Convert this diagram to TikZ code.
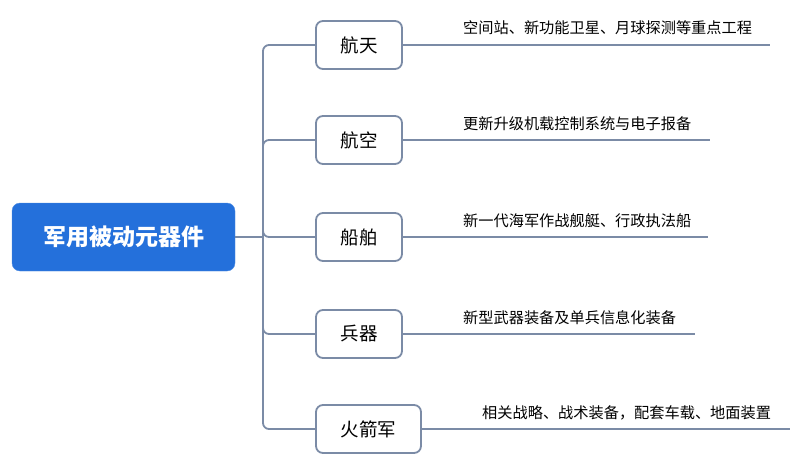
\documentclass[tikz,border=0pt]{standalone}
\usepackage{fontspec}
\setmainfont{Noto Sans CJK SC}
\usetikzlibrary{positioning,calc}
\definecolor{rootblue}{HTML}{2470DB}
\definecolor{linkgray}{HTML}{7B8BA6}
\tikzset{
  rootbox/.style={draw=rootblue!80!white,fill=rootblue,rounded corners=8pt,text=white,
    minimum width=223pt,minimum height=68pt,font=\fontsize{23}{26}\selectfont\bfseries},
  topicbox/.style={draw=linkgray,line width=1.8pt,fill=white,rounded corners=7pt,
    minimum height=48pt,font=\fontsize{18.5}{21}\selectfont},
  leaf/.style={anchor=west,inner sep=0pt,font=\fontsize{15.2}{18}\selectfont},
  link/.style={draw=linkgray,line width=1.8pt}
}
\begin{document}
\begin{tikzpicture}[x=1pt,y=-1pt]
  \useasboundingbox (0,0) rectangle (800,466);
  % root and hub
  \node[rootbox] (root) at (123.5,237) {军用被动元器件};
  \coordinate (hub) at (263,237);
  \draw[link] (root.east) -- (hub);
  % topics
  \node[topicbox,minimum width=86pt] (ht) at (359,45) {航天};
  \node[topicbox,minimum width=86pt] (hk) at (359,140) {航空};
  \node[topicbox,minimum width=86pt] (cb) at (359,237) {船舶};
  \node[topicbox,minimum width=86pt] (bq) at (359,334) {兵器};
  \node[topicbox,minimum width=105pt] (hjj) at (368.5,429) {火箭军};
  \foreach \t in {ht,hk,cb,bq,hjj}
    \draw[link,rounded corners=6pt] (hub) |- (\t.west);
  % leaves
  \node[leaf] (l1) at (463,28) {空间站、新功能卫星、月球探测等重点工程};
  \node[leaf] (l2) at (463,124) {更新升级机载控制系统与电子报备};
  \node[leaf] (l3) at (463,221) {新一代海军作战舰艇、行政执法船};
  \node[leaf] (l4) at (463,318) {新型武器装备及单兵信息化装备};
  \node[leaf] (l5) at (482,413) {相关战略、战术装备，配套车载、地面装置};
  \coordinate (e1) at (770,45);
  \coordinate (e2) at (710,140);
  \coordinate (e3) at (708,237);
  \coordinate (e4) at (695,334);
  \coordinate (e5) at (790,429);
  \draw[link] (ht.east) -- (e1);
  \draw[link] (hk.east) -- (e2);
  \draw[link] (cb.east) -- (e3);
  \draw[link] (bq.east) -- (e4);
  \draw[link] (hjj.east) -- (e5);
\end{tikzpicture}
\end{document}
